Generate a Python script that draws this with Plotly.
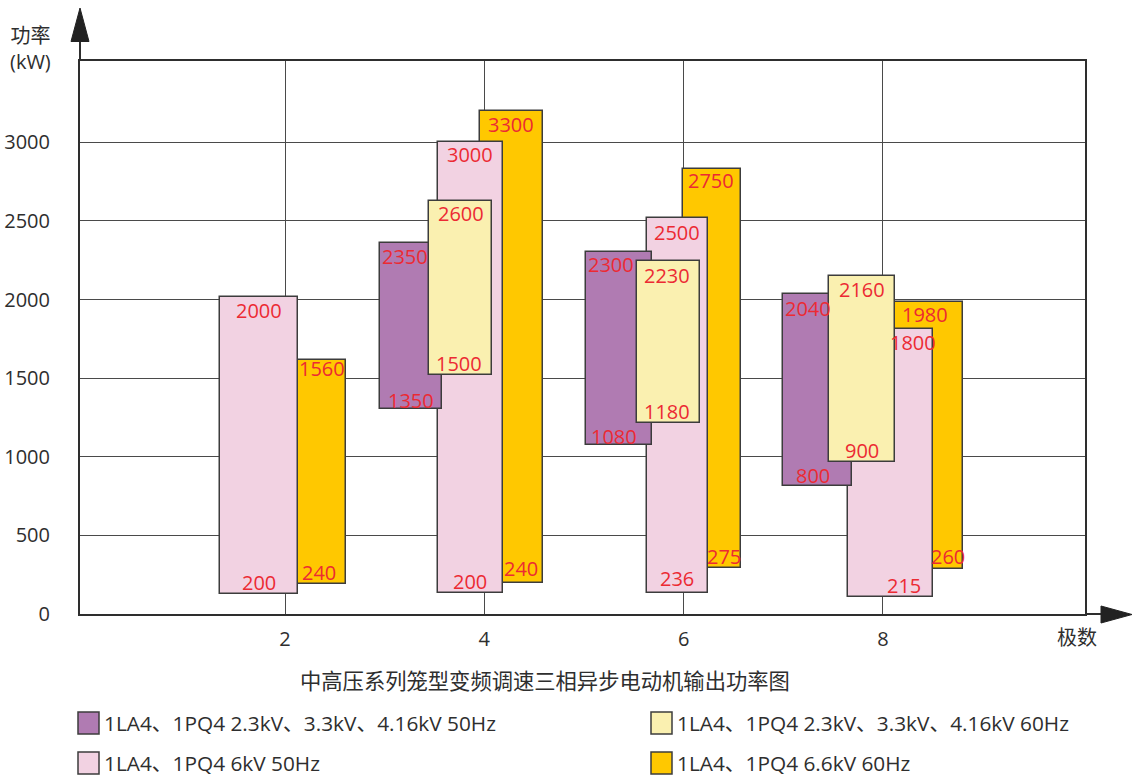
import plotly.graph_objects as go

# ---------------- data ----------------
poles_3 = [4, 6, 8]
poles_4 = [2, 4, 6, 8]
x_ticks = [2, 4, 6, 8]
y_ticks = [0, 500, 1000, 1500, 2000, 2500, 3000]

name_s1 = "1LA4、1PQ4 2.3kV、3.3kV、4.16kV 50Hz"
name_s2 = "1LA4、1PQ4 2.3kV、3.3kV、4.16kV 60Hz"
name_s3 = "1LA4、1PQ4 6kV 50Hz"
name_s4 = "1LA4、1PQ4 6.6kV 60Hz"

# series 1 (purple) : 2.3/3.3/4.16 kV 50 Hz
s1_low = [1302, 1075, 814]
s1_high = [2358, 2304, 2033]
s1_low_lbl = ["1350", "1080", "800"]
s1_high_lbl = ["2350", "2300", "2040"]

# series 2 (light yellow) : 2.3/3.3/4.16 kV 60 Hz
s2_low = [1520, 1217, 965]
s2_high = [2627, 2247, 2148]
s2_low_lbl = ["1500", "1180", "900"]
s2_high_lbl = ["2600", "2230", "2160"]

# series 3 (pink) : 6 kV 50 Hz
s3_low = [125, 132, 134, 108]
s3_high = [2014, 3004, 2517, 1813]
s3_low_lbl = ["200", "200", "236", "215"]
s3_high_lbl = ["2000", "3000", "2500", "1800"]

# series 4 (orange) : 6.6 kV 60 Hz
s4_low = [189, 195, 294, 284]
s4_high = [1614, 3199, 2832, 1982]
s4_low_lbl = ["240", "240", "275", "260"]
s4_high_lbl = ["1560", "3300", "2750", "1980"]

# ---------------- layout / style (positions, sizes) ----------------
s1_off = [-0.739, -0.652, -0.657]
s1_w = [0.622, 0.662, 0.686]
s2_off = [-0.237, -0.155, -0.210]
s2_w = [0.635, 0.632, 0.659]
s3_off = [-0.259, -0.142, -0.065, 0.072]
s3_w = [0.780, 0.652, 0.612, 0.853]
s4_off = [0.360, 0.272, 0.287, 0.450]
s4_w = [0.499, 0.632, 0.582, 0.700]

# label pixel nudges (x shift, y shift) for top and bottom labels
s1_dx_top, s1_dx_bot = [-6, -8, -10], [0, -5, -5]
s2_dx_top, s2_dx_bot = [0, -1, 0], [-2, -1, 0]
s3_dx_top, s3_dx_bot = [0, 0, 0, 23], [0, 0, 0, 14]
s4_dx_top, s4_dx_bot = [1, 0, -1, -3], [-2, 10, 12, 20]
s1_dy_top, s1_dy_bot = [0, 0, -1], [-3, -3, -1]
s2_dy_top, s2_dy_bot = [0, -2, 0], [0, 0, 0]
s3_dy_top, s3_dy_bot = [0, 0, -1, -1], [0, 0, 2.5, 0]
s4_dy_top, s4_dy_bot = [4.5, 0, 1, 1], [0, 3, 0, 1]

C_PURPLE = "#B07BB2"
C_YELLOW = "#FAF0B0"
C_PINK = "#F2D2E2"
C_ORANGE = "#FFC800"
C_EDGE = "#3c3c3c"
C_LABEL = "#EC2A33"
C_TEXT = "#2e2e2e"
C_GRID = "#4a4a4a"

W, H = 1132, 776
L, R, T, B = 80, 47, 61, 162          # plot area: x 80..1085, y 61..614
PW, PH = W - L - R, H - T - B

def px(xp):
    return (xp - L) / PW

def py(yp):
    return (H - B - yp) / PH

series = [
    # drawing order: orange (back), pink, purple, yellow (front)
    dict(name=name_s4, poles=poles_4, low=s4_low, high=s4_high, off=s4_off, w=s4_w,
         color=C_ORANGE, lt=s4_high_lbl, lb=s4_low_lbl, dxt=s4_dx_top, dxb=s4_dx_bot,
         dyt=s4_dy_top, dyb=s4_dy_bot),
    dict(name=name_s3, poles=poles_4, low=s3_low, high=s3_high, off=s3_off, w=s3_w,
         color=C_PINK, lt=s3_high_lbl, lb=s3_low_lbl, dxt=s3_dx_top, dxb=s3_dx_bot,
         dyt=s3_dy_top, dyb=s3_dy_bot),
    dict(name=name_s1, poles=poles_3, low=s1_low, high=s1_high, off=s1_off, w=s1_w,
         color=C_PURPLE, lt=s1_high_lbl, lb=s1_low_lbl, dxt=s1_dx_top, dxb=s1_dx_bot,
         dyt=s1_dy_top, dyb=s1_dy_bot),
    dict(name=name_s2, poles=poles_3, low=s2_low, high=s2_high, off=s2_off, w=s2_w,
         color=C_YELLOW, lt=s2_high_lbl, lb=s2_low_lbl, dxt=s2_dx_top, dxb=s2_dx_bot,
         dyt=s2_dy_top, dyb=s2_dy_bot),
]

fig = go.Figure()
annotations = []
for s in series:
    xs = [p + o for p, o in zip(s["poles"], s["off"])]
    fig.add_trace(go.Bar(
        x=xs,
        y=[h - l for h, l in zip(s["high"], s["low"])],
        base=s["low"],
        width=s["w"],
        name=s["name"],
        marker=dict(color=s["color"], line=dict(color=C_EDGE, width=1.5)),
        showlegend=False,
        hoverinfo="skip",
    ))
    for i, x in enumerate(xs):
        annotations.append(dict(x=x, y=s["high"][i], text=s["lt"][i], showarrow=False,
                                xanchor="center", yanchor="middle",
                                yshift=-13 + s["dyt"][i], xshift=s["dxt"][i],
                                font=dict(family="Open Sans", size=20, color=C_LABEL)))
        annotations.append(dict(x=x, y=s["low"][i], text=s["lb"][i], showarrow=False,
                                xanchor="center", yanchor="middle",
                                yshift=11.5 + s["dyb"][i], xshift=s["dxb"][i],
                                font=dict(family="Open Sans", size=20, color=C_LABEL)))

# axis titles and chart title
annotations.append(dict(xref="paper", yref="paper", x=px(30), y=py(49), text="功率<br>(kW)",
                        showarrow=False, xanchor="center", yanchor="middle", align="center",
                        font=dict(family="Open Sans, Noto Sans CJK SC", size=20, color=C_TEXT)))
annotations.append(dict(xref="paper", yref="paper", x=px(1077), y=py(636), text="极数",
                        showarrow=False, xanchor="center", yanchor="middle",
                        font=dict(family="Noto Sans CJK SC", size=20, color=C_TEXT)))
annotations.append(dict(xref="paper", yref="paper", x=px(545), y=py(679),
                        text="中高压系列笼型变频调速三相异步电动机输出功率图",
                        showarrow=False, xanchor="center", yanchor="middle",
                        font=dict(family="Noto Sans CJK SC", size=21.3, color=C_TEXT)))

# custom legend (two columns)
legend_items = [
    (name_s1, C_PURPLE, 78, 723),
    (name_s2, C_YELLOW, 651, 723),
    (name_s3, C_PINK, 78, 763),
    (name_s4, C_ORANGE, 651, 763),
]
shapes = []
for txt, col, lx, ly in legend_items:
    shapes.append(dict(type="rect", xref="paper", yref="paper",
                       x0=px(lx), x1=px(lx + 21), y0=py(ly - 11), y1=py(ly + 11),
                       fillcolor=col, line=dict(color=C_EDGE, width=1.5)))
    annotations.append(dict(xref="paper", yref="paper", x=px(lx + 24), y=py(ly), text=txt,
                            showarrow=False, xanchor="left", yanchor="middle",
                            font=dict(family="Open Sans, Noto Sans CJK SC", size=20.8, color=C_TEXT)))

# axis extensions with arrows
shapes.append(dict(type="line", xref="paper", yref="paper", x0=0, x1=0, y0=1, y1=py(40),
                   line=dict(color=C_TEXT, width=2)))
shapes.append(dict(type="path", xref="paper", yref="paper",
                   path=f"M {px(71)} {py(41.5)} L {px(89)} {py(41.5)} L {px(80)} {py(8)} Z",
                   fillcolor="#222222", line=dict(color="#222222", width=1)))
shapes.append(dict(type="line", xref="paper", yref="paper", x0=1, x1=px(1102), y0=0, y1=0,
                   line=dict(color=C_TEXT, width=2)))
shapes.append(dict(type="path", xref="paper", yref="paper",
                   path=f"M {px(1101)} {py(606)} L {px(1101)} {py(623)} L {px(1132)} {py(614.5)} Z",
                   fillcolor="#222222", line=dict(color="#222222", width=1)))

fig.update_layout(
    width=W, height=H,
    margin=dict(l=L, r=R, t=T, b=B, pad=0, autoexpand=False),
    barmode="overlay",
    bargap=0,
    paper_bgcolor="white",
    plot_bgcolor="white",
    showlegend=False,
    annotations=annotations,
    shapes=shapes,
    xaxis=dict(range=[-0.057, 10.027], tickvals=x_ticks, ticktext=[str(v) for v in x_ticks],
               showgrid=True, gridcolor=C_GRID, gridwidth=1.3, zeroline=False,
               showline=True, linecolor=C_TEXT, linewidth=2, mirror=True,
               ticks="", ticklabelstandoff=6, automargin=False,
               tickfont=dict(family="Open Sans", size=20, color=C_TEXT)),
    yaxis=dict(range=[0, 3517], tickvals=y_ticks, ticktext=[str(v) for v in y_ticks],
               showgrid=True, gridcolor=C_GRID, gridwidth=1.3, zeroline=False,
               showline=True, linecolor=C_TEXT, linewidth=2, mirror=True,
               ticks="", ticklabelstandoff=24, automargin=False,
               tickfont=dict(family="Open Sans", size=20, color=C_TEXT)),
)

fig.write_html("out.html", config={"displayModeBar": False},
               post_script="document.body.style.margin='0';document.body.style.overflow='hidden';")
